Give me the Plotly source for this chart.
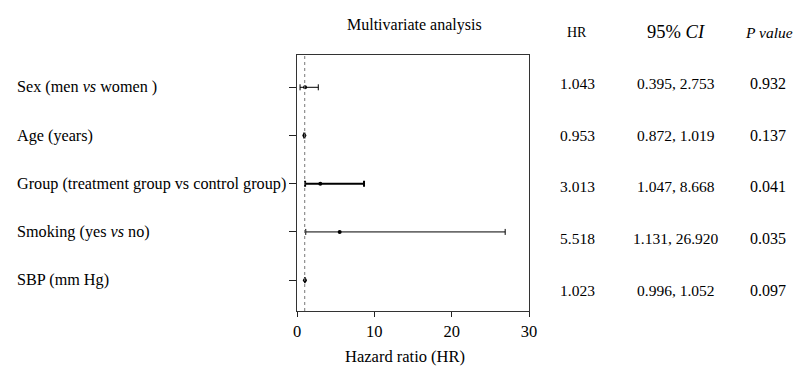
import plotly.graph_objects as go

labels = ["Sex (men <i>vs</i> women )", "Age (years)", "Group (treatment group vs control group)",
          "Smoking (yes <i>vs</i> no)", "SBP (mm Hg)"]
hr = [1.043, 0.953, 3.013, 5.518, 1.023]
ci_low = [0.395, 0.872, 1.047, 1.131, 0.996]
ci_high = [2.753, 1.019, 8.668, 26.920, 1.052]
p_values = ["0.932", "0.137", "0.041", "0.035", "0.097"]
x_ticks = [0, 10, 20, 30]

line_widths = [1, 1, 2, 1, 1]
FONT = "Liberation Serif"
W, H = 808, 369
L, R, T, B = 297, 279, 55, 58

fig = go.Figure()
rows = list(range(1, len(labels) + 1))
for i, r in enumerate(rows):
    fig.add_trace(go.Scatter(
        x=[hr[i]], y=[r], mode="markers",
        marker=dict(color="black", size=4),
        error_x=dict(type="data", symmetric=False,
                     array=[ci_high[i] - hr[i]], arrayminus=[hr[i] - ci_low[i]],
                     color="black", thickness=line_widths[i], width=3),
        showlegend=False, hoverinfo="skip"))

fig.add_vline(x=1, line=dict(color="#777", width=1, dash="dot"))

def py(pix):
    return (H - B - pix) / (H - T - B)

def px(pix):
    return (pix - L) / (W - L - R)

anns = []
for i, r in enumerate(rows):
    anns.append(dict(text=labels[i], x=px(15), xref="paper", y=r, yref="y",
                     xanchor="left", yanchor="middle", showarrow=False,
                     font=dict(family=FONT, size=16.2, color="black")))
    ypix = 83.5 + i * 51.7
    for xc, txt, fs in [(577, f"{hr[i]:.3f}", 15.5), (676, f"{ci_low[i]:.3f}, {ci_high[i]:.3f}", 15.5),
                        (768, p_values[i], 16)]:
        anns.append(dict(text=txt, x=px(xc), xref="paper", y=py(ypix), yref="paper",
                         xanchor="center", yanchor="middle", showarrow=False,
                         font=dict(family=FONT, size=fs, color="black")))

headers = [(577, "HR", 14), (676, "95% <i>CI</i>", 18.5), (769, "<i>P value</i>", 15.5)]
for xc, txt, fs in headers:
    anns.append(dict(text=txt, x=px(xc), xref="paper", y=py(32), yref="paper",
                     xanchor="center", yanchor="middle", showarrow=False,
                     font=dict(family=FONT, size=fs, color="black")))
anns.append(dict(text="Multivariate analysis", x=px(414), xref="paper", y=py(25), yref="paper",
                 xanchor="center", yanchor="middle", showarrow=False,
                 font=dict(family=FONT, size=16, color="black")))
anns.append(dict(text="Hazard ratio (HR)", x=px(404.5), xref="paper", y=py(356), yref="paper",
                 xanchor="center", yanchor="middle", showarrow=False,
                 font=dict(family=FONT, size=16.5, color="black")))

fig.update_layout(
    width=W, height=H, margin=dict(l=L, r=R, t=T, b=B),
    paper_bgcolor="white", plot_bgcolor="white",
    annotations=anns,
    xaxis=dict(range=[0, 30], tickvals=x_ticks, ticks="outside", ticklen=5, tickcolor="#222",
               showline=True, linecolor="#333", linewidth=1.3, mirror=True, showgrid=False, zeroline=False,
               tickfont=dict(family=FONT, size=16.5, color="black")),
    yaxis=dict(range=[5.64, 0.33], tickvals=rows, ticks="outside", ticklen=7, tickcolor="#222",
               showticklabels=False, showline=True, linecolor="#333", linewidth=1.3, mirror=True,
               showgrid=False, zeroline=False),
)
fig.write_html("out.html", config={"displayModeBar": False},
               post_script="document.body.style.margin='0px';")
